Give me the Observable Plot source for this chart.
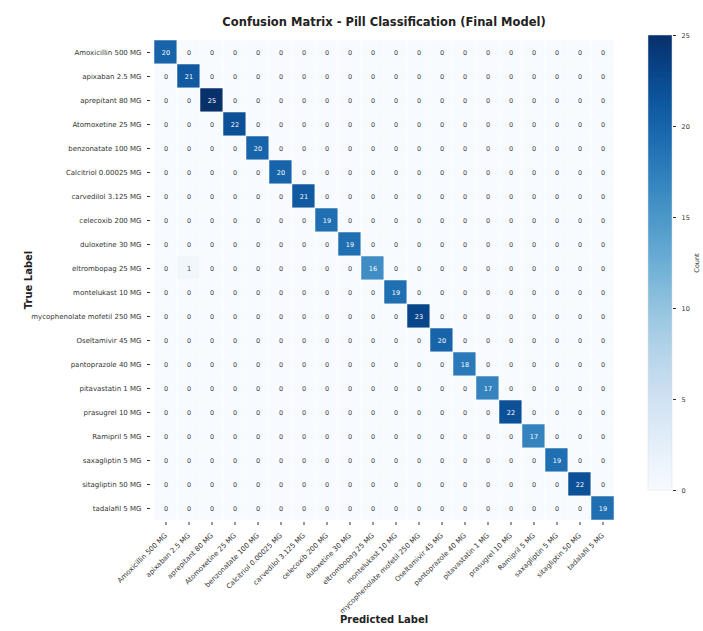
<!DOCTYPE html>
<html>
<head>
<meta charset="utf-8">
<script src="https://cdn.jsdelivr.net/npm/d3@7"></script>
<script src="https://cdn.jsdelivr.net/npm/@observablehq/plot@0.6"></script>
<style>
  html, body { margin: 0; padding: 0; background: #fff; }
  #wrap { position: relative; width: 703px; height: 631px; }
  #wrap svg { position: absolute; top: 0; }
</style>
</head>
<body>
<div id="wrap"></div>
<script>
// Pill classes (true and predicted share the same order)
const classes = [
  "Amoxicillin 500 MG", "apixaban 2.5 MG", "aprepitant 80 MG", "Atomoxetine 25 MG",
  "benzonatate 100 MG", "Calcitriol 0.00025 MG", "carvedilol 3.125 MG", "celecoxib 200 MG",
  "duloxetine 30 MG", "eltrombopag 25 MG", "montelukast 10 MG", "mycophenolate mofetil 250 MG",
  "Oseltamivir 45 MG", "pantoprazole 40 MG", "pitavastatin 1 MG", "prasugrel 10 MG",
  "Ramipril 5 MG", "saxagliptin 5 MG", "sitagliptin 50 MG", "tadalafil 5 MG"
];

// Correct predictions per class (diagonal)
const correct = [20, 21, 25, 22, 20, 20, 21, 19, 19, 16, 19, 23, 20, 18, 17, 22, 17, 19, 22, 19];

// Misclassifications (off-diagonal)
const errorTrue = ["eltrombopag 25 MG"];
const errorPred = ["apixaban 2.5 MG"];
const errorCount = [1];

const colorTicks = [0, 5, 10, 15, 20, 25];

// Full matrix of counts
const cells = [];
classes.forEach((t, i) => {
  classes.forEach((p, j) => {
    let c = i === j ? correct[i] : 0;
    errorTrue.forEach((et, k) => { if (et === t && errorPred[k] === p) c += errorCount[k]; });
    cells.push({true: t, pred: p, count: c});
  });
});

const font = "DejaVu Sans, sans-serif";
const colorOpts = {type: "linear", domain: [0, 25], scheme: "blues"};

const matrix = Plot.plot({
  width: 703,
  height: 631,
  marginLeft: 150,
  marginRight: 86,
  marginTop: 37,
  marginBottom: 109,
  style: {fontFamily: font, fontSize: "7px", color: "#333", background: "transparent"},
  x: {domain: classes, padding: 0, label: null, tickRotate: -45, tickSize: 3},
  y: {domain: classes, padding: 0, label: null, tickSize: 3},
  color: colorOpts,
  marks: [
    Plot.cell(cells, {x: "pred", y: "true", fill: "count", stroke: "white", strokeWidth: 0.5}),
    Plot.text(cells.filter(d => d.count > 12), {x: "pred", y: "true", text: "count", fill: "white", fontSize: 6.5}),
    Plot.text(cells.filter(d => d.count <= 12), {x: "pred", y: "true", text: "count", fill: "#444", fontSize: 6.5}),
    Plot.text(["Confusion Matrix - Pill Classification (Final Model)"], {frameAnchor: "top", dy: -20, fontSize: 11.5, fontWeight: "bold", fill: "#222"}),
    Plot.text(["Predicted Label"], {frameAnchor: "bottom", dy: 100, fontSize: 10, fontWeight: "bold", fill: "#222"}),
    Plot.text(["True Label"], {frameAnchor: "left", dx: -122, rotate: -90, textAnchor: "middle", fontSize: 10, fontWeight: "bold", fill: "#222"})
  ]
});
matrix.style.left = "0px";

// Colour bar, drawn with its own linear scale
const steps = d3.range(0, 25, 0.125);
const bar = Plot.plot({
  width: 73,
  height: 631,
  marginLeft: 18,
  marginRight: 31,
  marginTop: 35,
  marginBottom: 141,
  style: {fontFamily: font, fontSize: "6.5px", color: "#333", background: "transparent"},
  x: {axis: null, domain: [0, 1]},
  y: {domain: [0, 25], axis: "right", ticks: colorTicks, tickSize: 3, label: "Count", labelAnchor: "center", labelArrow: "none", labelOffset: 26},
  color: colorOpts,
  marks: [
    Plot.rect(steps, {x1: 0, x2: 1, y1: d => d, y2: d => Math.min(25, d + 0.25), fill: d => d + 0.0625}),
    Plot.rect([0], {x1: 0, x2: 1, y1: 0, y2: 25, stroke: "#ddd", strokeWidth: 0.5, fill: "none"})
  ]
});
bar.style.left = "630px";

document.getElementById("wrap").append(matrix, bar);
</script>
</body>
</html>
